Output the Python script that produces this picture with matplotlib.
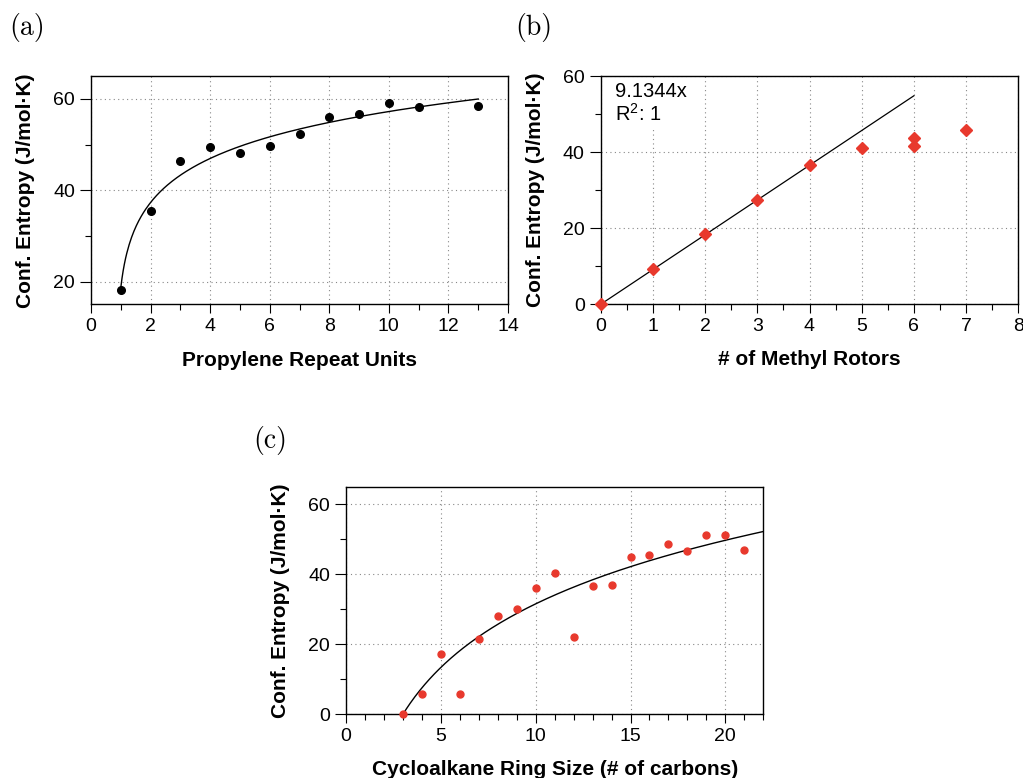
import numpy as np
import matplotlib.pyplot as plt
from matplotlib.ticker import MultipleLocator

plt.rcParams['font.family'] = ['Liberation Sans', 'DejaVu Sans']
plt.rcParams['mathtext.fontset'] = 'custom'
plt.rcParams['mathtext.rm'] = 'Liberation Sans'

# (a) propylene repeat units
prop_n = [1, 2, 3, 4, 5, 6, 7, 8, 9, 10, 11, 13]
prop_s = [18.2, 35.4, 46.3, 49.4, 48.2, 49.7, 52.4, 56.0, 56.6, 59.0, 58.2, 58.4]
fit_a = (35.8, 9.67, 0.83)   # y = a + b*ln(x - c)

# (b) methyl rotors
rot_n = [0, 1, 2, 3, 4, 5, 6, 6, 7]
rot_s = [0.0, 9.2, 18.4, 27.5, 36.6, 41.1, 41.5, 43.7, 45.9]
slope_b = 9.1344

# (c) cycloalkane ring size
ring_n = [3, 4, 5, 6, 7, 8, 9, 10, 11, 12, 13, 14, 15, 16, 17, 18, 19, 20, 21]
ring_s = [0.0, 5.8, 17.3, 5.8, 21.5, 28.2, 30.1, 36.1, 40.3, 22.2, 36.7, 36.9,
          44.9, 45.6, 48.7, 46.7, 51.2, 51.2, 46.9]
fit_c = (26.2, 3.0)          # y = b*ln(x / x0)

red = '#e8392d'
ylab = 'Conf. Entropy (J/mol\u00b7K)'
W, H = 1023, 778

fig = plt.figure(figsize=(W / 100, H / 100), dpi=100)


def make_axes(l, t, r, b):
    return fig.add_axes([l / W, 1 - b / H, (r - l) / W, (b - t) / H])


def style(ax, xmaj, xmin, ymaj, ymin):
    ax.xaxis.set_major_locator(MultipleLocator(xmaj))
    ax.xaxis.set_minor_locator(MultipleLocator(xmin))
    ax.yaxis.set_major_locator(MultipleLocator(ymaj))
    ax.yaxis.set_minor_locator(MultipleLocator(ymin))
    ax.tick_params(axis='y', which='major', length=8, width=0.8, pad=3.5, labelsize=14)
    ax.tick_params(axis='y', which='minor', length=4.5, width=0.8)
    ax.tick_params(axis='x', which='major', length=6.5, width=0.8, pad=3.5, labelsize=14)
    ax.tick_params(axis='x', which='minor', length=4, width=0.8)
    ax.grid(True, which='major', color='#888888', linestyle=(0, (1, 3)), lw=0.8)
    ax.set_axisbelow(True)
    for sp in ax.spines.values():
        sp.set_linewidth(1.0)
    ax.set_ylabel(ylab, fontsize=15, fontweight='bold', labelpad=13)


# panel (a)
ax = make_axes(91, 76, 508, 304.5)
style(ax, 2, 1, 20, 10)
ax.set_xlim(0, 14)
ax.set_ylim(15, 65)
xa = np.linspace(1.0, 13, 300)
ax.plot(xa, fit_a[0] + fit_a[1] * np.log(xa - fit_a[2]), color='black', lw=1.0)
ax.plot(prop_n, prop_s, 'o', color='black', ms=5.5, zorder=3)
ax.set_xlabel('Propylene Repeat Units', fontsize=15, fontweight='bold', labelpad=11)

# panel (b)
ax = make_axes(600.7, 76, 1018.3, 304.3)
style(ax, 1, 0.5, 20, 10)
ax.set_xlim(0, 8)
ax.set_ylim(0, 60)
xb = np.array([0, 6])
ax.plot(xb, slope_b * xb, color='black', lw=0.9)
ax.plot(rot_n, rot_s, 'D', color=red, ms=6.5, zorder=3, clip_on=False)
ax.set_xlabel('# of Methyl Rotors', fontsize=15, fontweight='bold', labelpad=11)
ax.text(0.035, 0.975, '9.1344x\nR$^{2}$: 1', transform=ax.transAxes,
        fontsize=14.5, va='top', ha='left', linespacing=1.1,
        bbox=dict(facecolor='white', edgecolor='none', pad=2))

# panel (c)
ax = make_axes(346, 486.7, 763.3, 714.3)
style(ax, 5, 1, 20, 10)
ax.set_xlim(0, 22)
ax.set_ylim(0, 65)
xc = np.linspace(fit_c[1], 22, 300)
ax.plot(xc, fit_c[0] * np.log(xc / fit_c[1]), color='black', lw=1.0)
ax.plot(ring_n, ring_s, 'o', color=red, ms=5, zorder=3, clip_on=False)
ax.set_xlabel('Cycloalkane Ring Size (# of carbons)', fontsize=15, fontweight='bold', labelpad=11)

for lab, x, y in [('(a)', 27, 28), ('(b)', 534, 28), ('(c)', 270, 440)]:
    fig.text(x / W, 1 - y / H, lab, fontsize=20, family='cmr10', ha='center', va='center')

fig.savefig('out.png', dpi=100)
